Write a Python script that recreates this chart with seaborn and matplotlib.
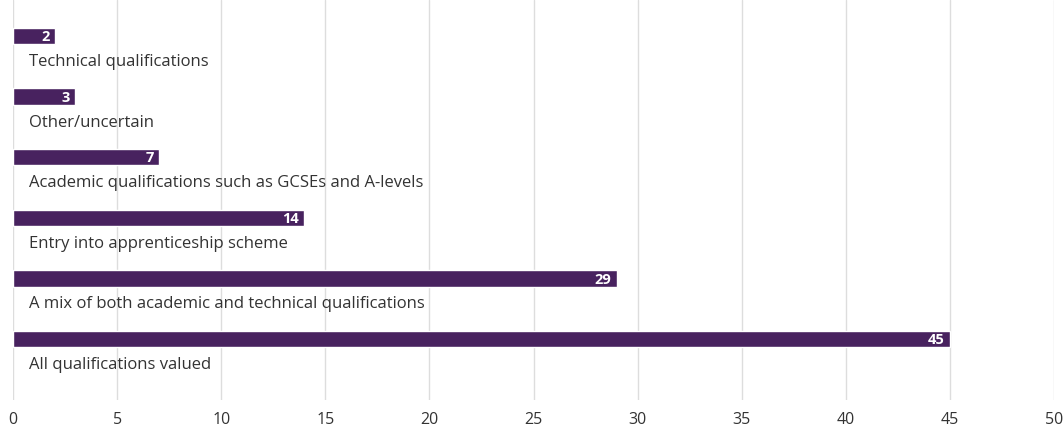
import matplotlib
matplotlib.use("Agg")
import matplotlib.pyplot as plt
import seaborn as sns
import pandas as pd

categories = [
    "Technical qualifications",
    "Other/uncertain",
    "Academic qualifications such as GCSEs and A-levels",
    "Entry into apprenticeship scheme",
    "A mix of both academic and technical qualifications",
    "All qualifications valued",
]
values = [2, 3, 7, 14, 29, 45]
x_ticks = [0, 5, 10, 15, 20, 25, 30, 35, 40, 45, 50]

BAR_COLOR = "#48225f"
TEXT_COLOR = "#333333"

sns.set_style("white")
plt.rcParams["font.family"] = ["Open Sans", "DejaVu Sans"]

df = pd.DataFrame({"category": categories, "value": values})

fig = plt.figure(figsize=(10.64, 4.32), dpi=100)
ax = fig.add_axes([13 / 1064, 32 / 432, (1054 - 13) / 1064, 400 / 432])

sns.barplot(
    data=df, x="value", y="category", orient="h",
    color=BAR_COLOR, width=0.27, saturation=1, ax=ax,
)

ax.set_xlim(0, 50)
ax.set_ylim(6.006, -0.594)
ax.set_xticks(x_ticks)
ax.set_yticks([])
ax.set_xlabel("")
ax.set_ylabel("")
ax.grid(axis="x", color="#dddddd", linewidth=1)
ax.set_axisbelow(True)
for s in ax.spines.values():
    s.set_visible(False)
ax.tick_params(axis="x", length=0, pad=9, labelsize=11.5, labelcolor=TEXT_COLOR)

for i, (cat, v) in enumerate(zip(categories, values)):
    ax.text(v - 0.25, i + 0.02, str(v), ha="right", va="center",
            color="white", fontsize=10.5, fontweight="bold")
    ax.text(0.78, i + 0.43, cat, ha="left", va="center",
            color=TEXT_COLOR, fontsize=12)

fig.savefig("out.png", dpi=100)
